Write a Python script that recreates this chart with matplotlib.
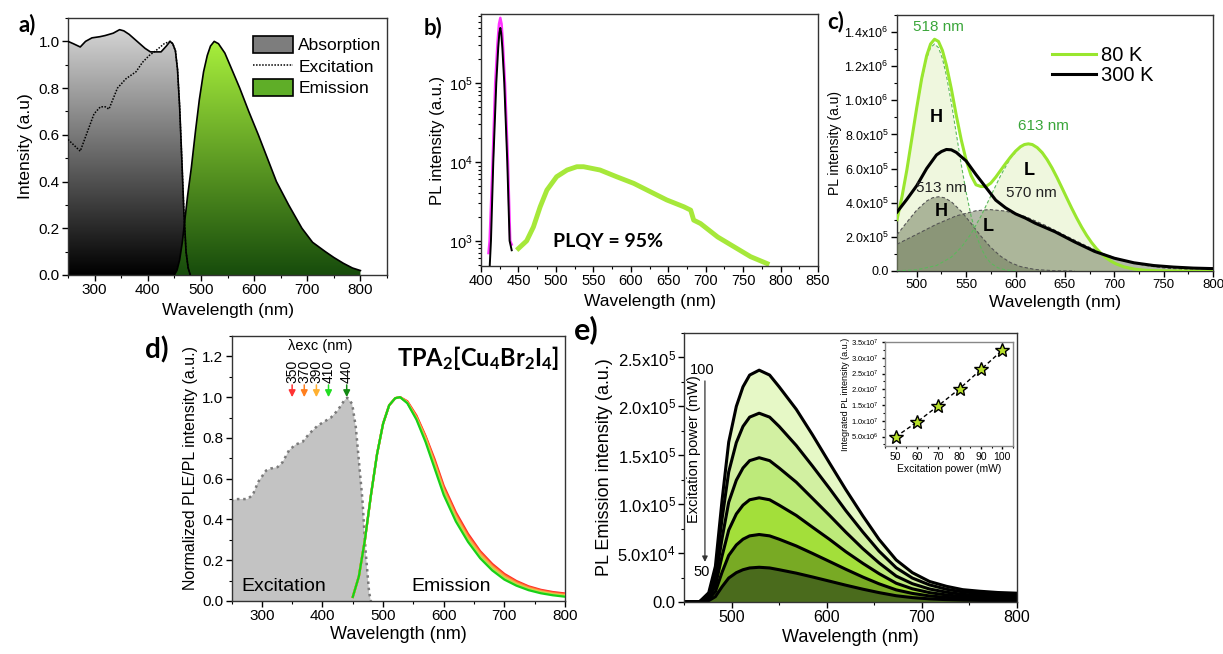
import numpy as np
import matplotlib
matplotlib.use('Agg')
import matplotlib.pyplot as plt
from matplotlib.colors import LinearSegmentedColormap
from matplotlib.patches import PathPatch, Patch
from matplotlib.path import Path
from matplotlib.lines import Line2D
from matplotlib.ticker import MultipleLocator, FixedLocator, FixedFormatter, LogLocator, NullFormatter

plt.rcParams['font.family'] = ['Liberation Sans', 'DejaVu Sans']
plt.rcParams['mathtext.fontset'] = 'custom'
plt.rcParams['mathtext.rm'] = 'Liberation Sans'
plt.rcParams['mathtext.it'] = 'Liberation Sans:italic'
plt.rcParams['mathtext.bf'] = 'Lato:bold'
plt.rcParams['mathtext.default'] = 'rm'

# ---------------- data: panel a ----------------
a_abs_wl = [250, 260, 273, 283, 295, 310, 320, 335, 347, 355, 365, 380, 395, 405, 415, 425, 435, 442,
            447, 452, 456, 460, 464, 468, 472, 476, 480]
a_abs = [1.0, 0.99, 0.976, 1.0, 1.015, 1.02, 1.025, 1.035, 1.05, 1.045, 1.03, 1.0, 0.97, 0.955, 0.955,
         0.955, 0.98, 1.0, 0.99, 0.96, 0.88, 0.72, 0.5, 0.27, 0.1, 0.03, 0.0]
a_exc_wl = [250, 273, 286, 299, 311, 320, 327, 343, 359, 378, 390, 403, 415, 431, 442, 447, 452, 456,
            460, 464, 468, 472, 476, 480]
a_exc = [0.58, 0.53, 0.61, 0.69, 0.72, 0.72, 0.71, 0.80, 0.84, 0.87, 0.91, 0.94, 0.96, 0.99, 1.0, 0.99,
         0.96, 0.88, 0.72, 0.5, 0.27, 0.1, 0.03, 0.0]
a_em_wl = [450, 455, 460, 465, 470, 475, 482, 490, 497, 505, 512, 518, 525, 533, 545, 560, 573, 590,
           608, 625, 642, 665, 690, 710, 734, 750, 768, 785, 800]
a_em = [0.0, 0.02, 0.065, 0.14, 0.24, 0.34, 0.46, 0.62, 0.75, 0.87, 0.94, 0.98, 1.0, 0.99, 0.95, 0.87,
        0.80, 0.70, 0.60, 0.50, 0.40, 0.30, 0.20, 0.14, 0.10, 0.075, 0.05, 0.03, 0.019]
a_legend = ['Absorption', 'Excitation', 'Emission']

# ---------------- data: panel b ----------------
b_green_wl = [450, 461, 470, 479, 488, 501, 515, 528, 537, 559, 581, 604, 626, 648, 671, 680, 684, 693,
              716, 738, 760, 782]
b_green = [800, 1000, 1500, 2700, 4400, 6500, 7900, 8700, 8700, 7900, 6500, 5350, 4200, 3300, 2700,
           2450, 1830, 1660, 1120, 840, 630, 515]
b_pink_wl = [410, 411.5, 415.5, 419, 422, 424, 425.8, 427.5, 429, 432, 436, 439, 441]
b_pink = [700, 1000, 1e4, 1e5, 3.2e5, 5.6e5, 6.7e5, 5.6e5, 3.5e5, 1e5, 1e4, 1e3, 900]
b_black_wl = [411.6, 413.3, 416.4, 420.4, 423, 424.5, 425.8, 427, 428.5, 431.1, 435.1, 438.2, 441]
b_black = [470, 1e3, 1e4, 1e5, 2.8e5, 4.3e5, 5.0e5, 4.3e5, 2.8e5, 1e5, 1e4, 1e3, 760]

# ---------------- data: panel c ----------------
c_80_wl = [480, 485, 490, 495, 500, 505, 510, 514, 518, 522, 526, 530, 535, 540, 545, 550, 555, 560,
           565, 570, 575, 580, 585, 590, 595, 600, 605, 609, 613, 617, 622, 627, 632, 637, 642, 647,
           652, 657, 662, 667, 672, 677, 682, 687, 692, 697, 702, 710, 720, 730, 740, 750, 770, 800]
c_80 = [3.01e5, 4.34e5, 5.93e5, 7.75e5, 9.57e5, 1.128e6, 1.261e6, 1.33e6, 1.358e6, 1.345e6, 1.292e6,
        1.206e6, 1.068e6, 9.13e5, 7.7e5, 6.5e5, 5.6e5, 5.05e5, 4.95e5, 4.95e5, 5.15e5, 5.5e5, 5.9e5,
        6.3e5, 6.68e5, 7.02e5, 7.28e5, 7.41e5, 7.45e5, 7.41e5, 7.23e5, 6.94e5, 6.53e5, 6.04e5, 5.48e5,
        4.88e5, 4.27e5, 3.67e5, 3.1e5, 2.57e5, 2.09e5, 1.67e5, 1.31e5, 1.01e5, 7.6e4, 5.66e4, 4.13e4,
        2.4e4, 1.14e4, 5.0e3, 2.1e3, 800, 70, 0]
c_300_wl = [480, 490, 500, 510, 520, 525, 530, 535, 540, 550, 560, 570, 580, 590, 600, 610, 620, 640,
            660, 680, 700, 720, 740, 760, 780, 800]
c_300 = [3.45e5, 4.2e5, 5.0e5, 6.0e5, 6.8e5, 7.0e5, 7.12e5, 7.1e5, 6.95e5, 6.45e5, 5.65e5, 4.9e5,
         4.15e5, 3.7e5, 3.35e5, 3.1e5, 2.8e5, 2.3e5, 1.7e5, 1.15e5, 7.5e4, 4.8e4, 3.2e4, 2.3e4, 1.7e4,
         1.4e4]
c_h80_wl = [480, 485, 490, 495, 500, 505, 510, 514, 518, 522, 526, 530, 535, 540, 545, 550, 555, 560,
            565, 570, 575, 582, 590, 600]
c_h80 = [3.0e5, 4.32e5, 5.9e5, 7.7e5, 9.5e5, 1.117e6, 1.245e6, 1.309e6, 1.33e6, 1.309e6, 1.245e6,
         1.146e6, 9.87e5, 8.07e5, 6.26e5, 4.62e5, 3.23e5, 2.15e5, 1.36e5, 8.1e4, 4.6e4, 1.9e4, 6e3, 1e3]
c_l80_wl = [480, 500, 520, 535, 545, 555, 565, 575, 585, 595, 605, 609, 613, 617, 622, 632, 642, 652,
            662, 672, 682, 692, 702, 715, 730, 750, 800]
c_l80 = [1.2e3, 7e3, 3.2e4, 8.1e4, 1.38e5, 2.18e5, 3.21e5, 4.4e5, 5.6e5, 6.62e5, 7.28e5, 7.41e5, 7.45e5,
         7.41e5, 7.23e5, 6.53e5, 5.48e5, 4.27e5, 3.1e5, 2.09e5, 1.31e5, 7.6e4, 4.13e4, 1.6e4, 5e3, 800, 0]
c_h300_wl = [480, 490, 500, 510, 516, 522, 528, 535, 545, 555, 565, 575, 585, 595, 605, 620, 640, 660]
c_h300 = [2.12e5, 2.86e5, 3.57e5, 4.1e5, 4.29e5, 4.35e5, 4.29e5, 4.06e5, 3.5e5, 2.79e5, 2.04e5, 1.38e5,
          8.6e4, 4.9e4, 2.6e4, 8.6e3, 1.5e3, 0]
c_l300_wl = [480, 500, 520, 540, 560, 574, 590, 610, 630, 650, 670, 690, 710, 730, 750, 770, 800]
c_l300 = [1.57e5, 2.15e5, 2.74e5, 3.23e5, 3.53e5, 3.6e5, 3.51e5, 3.19e5, 2.68e5, 2.09e5, 1.52e5, 9.8e4,
          6e4, 3.4e4, 1.8e4, 9e3, 3e3]
c_legend = ['80 K', '300 K']
c_yticks = [0, 2e5, 4e5, 6e5, 8e5, 1e6, 1.2e6, 1.4e6]
c_yticklabels = ['0.0', r'2.0x10$^{5}$', r'4.0x10$^{5}$', r'6.0x10$^{5}$', r'8.0x10$^{5}$',
                 r'1.0x10$^{6}$', r'1.2x10$^{6}$', r'1.4x10$^{6}$']

# ---------------- data: panel d ----------------
d_exc_wl = [250, 260, 276, 285, 294, 307, 315, 326, 334, 345, 356, 367, 378, 392, 403, 414, 425, 436,
            441, 449, 455, 460, 466, 471, 477, 480]
d_exc = [0.494, 0.50, 0.50, 0.52, 0.584, 0.64, 0.65, 0.657, 0.68, 0.74, 0.768, 0.78, 0.82, 0.86, 0.88,
         0.90, 0.935, 0.984, 0.997, 0.967, 0.853, 0.69, 0.494, 0.25, 0.04, 0.0]
d_em_wl = [450, 460, 470, 480, 490, 500, 510, 520, 528, 540, 555, 570, 585, 600, 620, 640, 660, 680,
           700, 720, 740, 760, 780, 800]
d_rise = [0.02, 0.12, 0.30, 0.52, 0.72, 0.87, 0.96, 0.995, 1.0]
d_em_350 = d_rise + [0.98, 0.91, 0.81, 0.695, 0.565, 0.435, 0.33, 0.245, 0.182, 0.133, 0.098, 0.072,
                     0.055, 0.044, 0.037]
d_em_370 = d_rise + [0.977, 0.905, 0.805, 0.685, 0.555, 0.425, 0.32, 0.238, 0.175, 0.127, 0.093, 0.068,
                     0.051, 0.040, 0.033]
d_em_390 = d_rise + [0.975, 0.90, 0.80, 0.675, 0.545, 0.415, 0.31, 0.23, 0.168, 0.12, 0.087, 0.063,
                     0.047, 0.036, 0.029]
d_em_410 = d_rise + [0.972, 0.895, 0.79, 0.665, 0.535, 0.405, 0.30, 0.22, 0.16, 0.113, 0.081, 0.058,
                     0.043, 0.032, 0.025]
d_em_440 = d_rise + [0.97, 0.89, 0.78, 0.65, 0.52, 0.39, 0.29, 0.21, 0.15, 0.105, 0.075, 0.053, 0.038,
                     0.028, 0.021]
d_exc_lambdas = [350, 370, 390, 410, 440]
d_exc_colors = ['#ff3333', '#ff7f1e', '#ffb030', '#22dd22', '#138a13']
d_em_colors = ['#ff2a2a', '#ff6a2a', '#ffa24a', '#b8e04a', '#18d018']

# ---------------- data: panel e ----------------
e_wl = [450, 466, 476, 483, 490, 497, 505, 512, 519, 529, 540, 550, 568, 585, 603, 620, 638, 655, 673,
        690, 708, 726, 743, 761, 780, 800]
e_100 = [0, 0, 9.5e3, 3.65e4, 1.04e5, 1.635e5, 2.0e5, 2.2e5, 2.32e5, 2.37e5, 2.32e5, 2.2e5, 1.97e5,
         1.71e5, 1.42e5, 1.15e5, 8.8e4, 6.4e4, 4.3e4, 3.0e4, 2.1e4, 1.6e4, 1.26e4, 1.1e4, 9.7e3, 9.0e3]
e_90 = [0, 0, 7.7e3, 2.97e4, 8.5e4, 1.33e5, 1.63e5, 1.795e5, 1.89e5, 1.93e5, 1.89e5, 1.795e5, 1.6e5,
        1.39e5, 1.16e5, 9.35e4, 7.15e4, 5.2e4, 3.5e4, 2.45e4, 1.75e4, 1.3e4, 1.03e4, 8.9e3, 8.0e3, 7.4e3]
e_80 = [0, 0, 5.9e3, 2.27e4, 6.5e4, 1.02e5, 1.245e5, 1.37e5, 1.445e5, 1.475e5, 1.445e5, 1.37e5, 1.225e5,
        1.06e5, 8.85e4, 7.15e4, 5.45e4, 4.0e4, 2.65e4, 1.87e4, 1.33e4, 1.0e4, 7.8e3, 6.8e3, 6.0e3, 5.6e3]
e_70 = [0, 0, 4.3e3, 1.64e4, 4.7e4, 7.35e4, 9.0e4, 9.9e4, 1.045e5, 1.065e5, 1.045e5, 9.9e4, 8.85e4,
        7.65e4, 6.4e4, 5.15e4, 3.95e4, 2.9e4, 1.92e4, 1.35e4, 9.6e3, 7.2e3, 5.6e3, 4.9e3, 4.4e3, 4.0e3]
e_60 = [0, 0, 2.8e3, 1.06e4, 3.04e4, 4.76e4, 5.83e4, 6.42e4, 6.76e4, 6.9e4, 6.76e4, 6.42e4, 5.73e4,
        4.97e4, 4.14e4, 3.35e4, 2.55e4, 1.86e4, 1.24e4, 8.8e3, 6.2e3, 4.7e3, 3.7e3, 3.2e3, 2.8e3, 2.6e3]
e_50 = [0, 0, 1.4e3, 5.5e3, 1.56e4, 2.45e4, 3.0e4, 3.3e4, 3.48e4, 3.55e4, 3.48e4, 3.3e4, 2.95e4, 2.56e4,
        2.13e4, 1.72e4, 1.31e4, 9.6e3, 6.4e3, 4.5e3, 3.2e3, 2.4e3, 1.9e3, 1.6e3, 1.5e3, 1.4e3]
e_colors = ['#e6f8c6', '#d2f0a2', '#bdea7a', '#a3df3a', '#78aa24', '#4a6b1c']
e_yticks = [0, 5e4, 1e5, 1.5e5, 2e5, 2.5e5]
e_yticklabels = ['0.0', r'5.0x10$^{4}$', r'1.0x10$^{5}$', r'1.5x10$^{5}$', r'2.0x10$^{5}$',
                 r'2.5x10$^{5}$']
e_power = [50, 60, 70, 80, 90, 100]
e_integ = [4.9e6, 9.6e6, 1.48e7, 2.02e7, 2.63e7, 3.24e7]
e_in_yticks = [5e6, 1e7, 1.5e7, 2e7, 2.5e7, 3e7, 3.5e7]
e_in_yticklabels = [r'5.0x10$^{6}$', r'1.0x10$^{7}$', r'1.5x10$^{7}$', r'2.0x10$^{7}$', r'2.5x10$^{7}$',
                    r'3.0x10$^{7}$', r'3.5x10$^{7}$']

# ---------------- figure ----------------
W, H = 1223, 654
fig = plt.figure(figsize=(W / 100, H / 100), dpi=100)


def px_axes(l, t, r, b):
    return fig.add_axes([l / W, 1 - b / H, (r - l) / W, (b - t) / H])


def style(ax, fs):
    ax.tick_params(which='both', direction='out', top=False, right=False, labelsize=fs, pad=2)
    ax.tick_params(which='major', length=4, width=1)
    ax.tick_params(which='minor', length=2.2, width=0.8)
    for s in ax.spines.values():
        s.set_linewidth(1.0)
        s.set_color('#333333')


def gradient_fill(ax, x, y, top, bottom, ymax, z):
    x = np.asarray(x, float)
    y = np.asarray(y, float)
    verts = np.column_stack([np.r_[x[0], x, x[-1]], np.r_[0, y, 0]])
    patch = PathPatch(Path(verts), facecolor='none', edgecolor='none', transform=ax.transData)
    ax.add_patch(patch)
    cmap = LinearSegmentedColormap.from_list('g', [bottom, top])
    im = ax.imshow(np.linspace(0, 1, 256).reshape(-1, 1), extent=[x[0], x[-1], 0, ymax],
                   origin='lower', aspect='auto', cmap=cmap, zorder=z, interpolation='bilinear')
    im.set_clip_path(patch)


LBL = dict(fontfamily='Lato', fontweight='bold')

# ---------------- panel a ----------------
ax = px_axes(68, 18, 387, 275)
gradient_fill(ax, a_abs_wl, a_abs, '#d6d6d6', '#000000', 1.06, 1)
gradient_fill(ax, a_em_wl, a_em, '#a8ef3c', '#174c0c', 1.0, 2)
ax.plot(a_abs_wl, a_abs, color='k', lw=1.2, zorder=3)
ax.plot(a_em_wl, a_em, color='k', lw=1.2, zorder=3)
ax.plot(a_exc_wl, a_exc, color='k', ls=(0, (1, 1)), lw=1.1, zorder=4)
ax.set_xlim(250, 850)
ax.set_ylim(0, 1.1)
ax.xaxis.set_major_locator(FixedLocator([300, 400, 500, 600, 700, 800]))
ax.xaxis.set_minor_locator(MultipleLocator(50))
ax.yaxis.set_major_locator(FixedLocator([0, 0.2, 0.4, 0.6, 0.8, 1.0]))
ax.yaxis.set_minor_locator(MultipleLocator(0.1))
ax.yaxis.set_major_formatter(FixedFormatter(['0.0', '0.2', '0.4', '0.6', '0.8', '1.0']))
style(ax, 11)
ax.set_xlabel('Wavelength (nm)', fontsize=12.5, labelpad=4)
ax.set_ylabel('Intensity (a.u)', fontsize=12.5, labelpad=4)
handles = [Patch(facecolor='#7d7d7d', edgecolor='k', lw=1.2),
           Line2D([], [], color='k', ls=(0, (1, 1)), lw=1.1),
           Patch(facecolor='#5fae28', edgecolor='k', lw=1.2)]
ax.legend(handles, a_legend, loc='upper left', bbox_to_anchor=(0.58, 0.93), frameon=False,
          fontsize=12.5, handlelength=2.3, handleheight=1.1, handletextpad=0.3, labelspacing=0.25,
          borderpad=0, borderaxespad=0)
fig.text(27 / W, 1 - 25 / H, 'a)', fontsize=16, ha='center', va='center', **LBL)

# ---------------- panel b ----------------
ax = px_axes(481, 14, 818, 266)
ax.set_yscale('log')
ax.plot(b_pink_wl, b_pink, color='#ff33ff', lw=1.8, zorder=2)
ax.plot(b_black_wl, b_black, color='k', lw=1.4, zorder=3)
ax.plot(b_green_wl, b_green, color='#a6e83a', lw=3.5, zorder=2)
ax.set_xlim(400, 850)
ax.set_ylim(480, 7.5e5)
ax.xaxis.set_major_locator(MultipleLocator(50))
ax.xaxis.set_minor_locator(MultipleLocator(25))
ax.yaxis.set_major_locator(LogLocator(base=10, numticks=10))
ax.yaxis.set_minor_locator(LogLocator(base=10, subs=np.arange(2, 10), numticks=10))
ax.yaxis.set_minor_formatter(NullFormatter())
style(ax, 10.5)
ax.set_xlabel('Wavelength (nm)', fontsize=12.5, labelpad=4)
ax.set_ylabel('PL intensity (a.u.)', fontsize=12, labelpad=3)
ax.text(570, 1000, 'PLQY = 95%', fontsize=14, ha='center', va='center', **LBL)
fig.text(433 / W, 1 - 28 / H, 'b)', fontsize=16, ha='center', va='center', **LBL)

# ---------------- panel c ----------------
ax = px_axes(897, 15, 1213, 271)
ax.fill_between(c_h80_wl, 0, c_h80, facecolor='#eff7de', edgecolor='none', zorder=1)
ax.fill_between(c_l80_wl, 0, c_l80, facecolor='#eff7de', edgecolor='none', zorder=1)
ax.fill_between(c_h300_wl, 0, c_h300, facecolor='#6b7757', alpha=0.5, edgecolor='none', zorder=3)
ax.fill_between(c_l300_wl, 0, c_l300, facecolor='#6b7757', alpha=0.5, edgecolor='none', zorder=3)
ax.plot(c_h300_wl, c_h300, color='#555555', ls=(0, (3, 2)), lw=0.8, zorder=4)
ax.plot(c_l300_wl, c_l300, color='#555555', ls=(0, (3, 2)), lw=0.8, zorder=4)
ax.plot(c_h80_wl, c_h80, color='#5cb85c', ls=(0, (3, 2)), lw=0.8, zorder=4.5)
ax.plot(c_l80_wl, c_l80, color='#5cb85c', ls=(0, (3, 2)), lw=0.8, zorder=4.5)
l80, = ax.plot(c_80_wl, c_80, color='#99e62e', lw=2.2, zorder=5)
l300, = ax.plot(c_300_wl, c_300, color='k', lw=2.2, zorder=6)
ax.set_xlim(480, 800)
ax.set_ylim(0, 1.5e6)
ax.xaxis.set_major_locator(MultipleLocator(50))
ax.xaxis.set_minor_locator(MultipleLocator(25))
ax.yaxis.set_major_locator(FixedLocator(c_yticks))
ax.yaxis.set_major_formatter(FixedFormatter(c_yticklabels))
ax.yaxis.set_minor_locator(MultipleLocator(1e5))
style(ax, 9.5)
ax.tick_params(axis='y', labelsize=9)
ax.set_xlabel('Wavelength (nm)', fontsize=12.5, labelpad=3)
ax.set_ylabel('PL intensity (a.u)', fontsize=10, labelpad=2)
ax.legend([l80, l300], c_legend, loc='upper left', bbox_to_anchor=(0.49, 0.88), frameon=False,
          fontsize=14.5, handlelength=2.2, handletextpad=0.25, labelspacing=0.05, borderpad=0,
          borderaxespad=0)
ax.text(521.5, 1.43e6, '518 nm', color='#3aa63a', fontsize=11, ha='center', va='center', zorder=7)
ax.text(628, 8.5e5, '613 nm', color='#3aa63a', fontsize=11, ha='center', va='center', zorder=7)
ax.text(525, 4.85e5, '513 nm', color='#222222', fontsize=11, ha='center', va='center', zorder=7)
ax.text(616, 4.55e5, '570 nm', color='#222222', fontsize=11, ha='center', va='center', zorder=7)
ax.text(519.5, 9.0e5, 'H', fontsize=13, fontweight='bold', ha='center', va='center', zorder=7)
ax.text(614, 5.9e5, 'L', fontsize=13, fontweight='bold', ha='center', va='center', zorder=7)
ax.text(525, 3.5e5, 'H', fontsize=13, fontweight='bold', ha='center', va='center', zorder=7)
ax.text(572.5, 2.6e5, 'L', fontsize=13, fontweight='bold', ha='center', va='center', zorder=7)
fig.text(836 / W, 1 - 22 / H, 'c)', fontsize=16, ha='center', va='center', **LBL)

# ---------------- panel d ----------------
ax = px_axes(231.5, 336, 565, 601)
ax.fill_between(d_exc_wl, 0, d_exc, facecolor='#c3c3c3', edgecolor='none', zorder=1)
ax.plot([d_exc_wl[0]] + d_exc_wl, [0] + d_exc, color='#7a7a7a', ls=(0, (1, 1.5)), lw=1.8, zorder=2)
for vals, col in zip([d_em_350, d_em_370, d_em_390, d_em_410, d_em_440], d_em_colors):
    ax.plot(d_em_wl, vals, color=col, lw=1.6, zorder=3)
for lam, col in zip(d_exc_lambdas, d_exc_colors):
    ax.annotate('', xy=(lam, 1.0), xytext=(lam, 1.06),
                arrowprops=dict(arrowstyle='-|>', color=col, lw=1.1, mutation_scale=10,
                                shrinkA=0, shrinkB=0), zorder=4)
    ax.text(lam, 1.068, str(lam), rotation=90, fontsize=10, ha='center', va='bottom')
ax.text(396, 1.25, 'λexc (nm)', fontsize=10.5, ha='center', va='center')
ax.text(791, 1.19, r'TPA$_\mathbf{2}$[Cu$_\mathbf{4}$Br$_\mathbf{2}$I$_\mathbf{4}$]', fontsize=17,
        ha='right', va='center', **LBL)
ax.text(266, 0.07, 'Excitation', fontsize=14, ha='left', va='center', zorder=5)
ax.text(613, 0.07, 'Emission', fontsize=14, ha='center', va='center', zorder=5)
ax.set_xlim(250, 800)
ax.set_ylim(0, 1.3)
ax.xaxis.set_major_locator(MultipleLocator(100))
ax.xaxis.set_minor_locator(MultipleLocator(50))
ax.yaxis.set_major_locator(FixedLocator([0, 0.2, 0.4, 0.6, 0.8, 1.0, 1.2]))
ax.yaxis.set_major_formatter(FixedFormatter(['0.0', '0.2', '0.4', '0.6', '0.8', '1.0', '1.2']))
ax.yaxis.set_minor_locator(MultipleLocator(0.1))
style(ax, 11)
ax.set_xlabel('Wavelength (nm)', fontsize=13, labelpad=2)
ax.set_ylabel('Normalized PLE/PL intensity (a.u.)', fontsize=11.5, labelpad=3)
fig.text(157 / W, 1 - 350 / H, 'd)', fontsize=20, ha='center', va='center', **LBL)

# ---------------- panel e ----------------
ax = px_axes(684, 333, 1017, 602)
for vals, col in zip([e_100, e_90, e_80, e_70, e_60, e_50], e_colors):
    ax.fill_between(e_wl, 0, vals, facecolor=col, edgecolor='none', zorder=1)
    ax.plot(e_wl, vals, color='k', lw=2.2, zorder=2)
ax.set_xlim(450, 800)
ax.set_ylim(0, 2.75e5)
ax.xaxis.set_major_locator(MultipleLocator(100))
ax.xaxis.set_minor_locator(MultipleLocator(50))
ax.yaxis.set_major_locator(FixedLocator(e_yticks))
ax.yaxis.set_major_formatter(FixedFormatter(e_yticklabels))
ax.yaxis.set_minor_locator(MultipleLocator(2.5e4))
style(ax, 11.5)
ax.tick_params(axis='y', labelsize=12)
ax.set_xlabel('Wavelength (nm)', fontsize=13, labelpad=3)
ax.set_ylabel('PL Emission intensity (a.u.)', fontsize=13, labelpad=3)
ax.text(469, 2.37e5, '100', fontsize=10.5, ha='center', va='center')
ax.text(469, 3.1e4, '50', fontsize=10.5, ha='center', va='center')
ax.annotate('', xy=(472, 4.1e4), xytext=(472, 2.26e5),
            arrowprops=dict(arrowstyle='-|>', color='#333333', lw=0.9, mutation_scale=8,
                            shrinkA=0, shrinkB=0))
ax.text(461, 1.56e5, 'Excitation power (mW)', rotation=90, fontsize=10.5, ha='center', va='center')
fig.text(586 / W, 1 - 330 / H, 'e)', fontsize=22, ha='center', va='center', **LBL)

# inset
axi = px_axes(885, 342, 1013, 446)
axi.plot(e_power, e_integ, color='k', ls=(0, (3, 2)), lw=1.0, zorder=2)
axi.plot(e_power, e_integ, ls='none', marker='*', ms=10, mfc='#b8e02a', mec='k', mew=1.0, zorder=3)
axi.set_xlim(45, 105)
axi.set_ylim(2e6, 3.5e7)
axi.xaxis.set_major_locator(MultipleLocator(10))
axi.xaxis.set_minor_locator(MultipleLocator(5))
axi.yaxis.set_major_locator(FixedLocator(e_in_yticks))
axi.yaxis.set_major_formatter(FixedFormatter(e_in_yticklabels))
axi.yaxis.set_minor_locator(MultipleLocator(2.5e6))
style(axi, 7.5)
axi.tick_params(axis='y', labelsize=5.5)
axi.tick_params(which='major', length=2.5)
axi.tick_params(which='minor', length=1.5)
for s in axi.spines.values():
    s.set_color('#888888')
axi.set_xlabel('Excitation power (mW)', fontsize=7.5, labelpad=1)
axi.set_ylabel('Integrated PL intensity (a.u.)', fontsize=6.5, labelpad=1)

fig.savefig('out.png', dpi=100, facecolor='white')
